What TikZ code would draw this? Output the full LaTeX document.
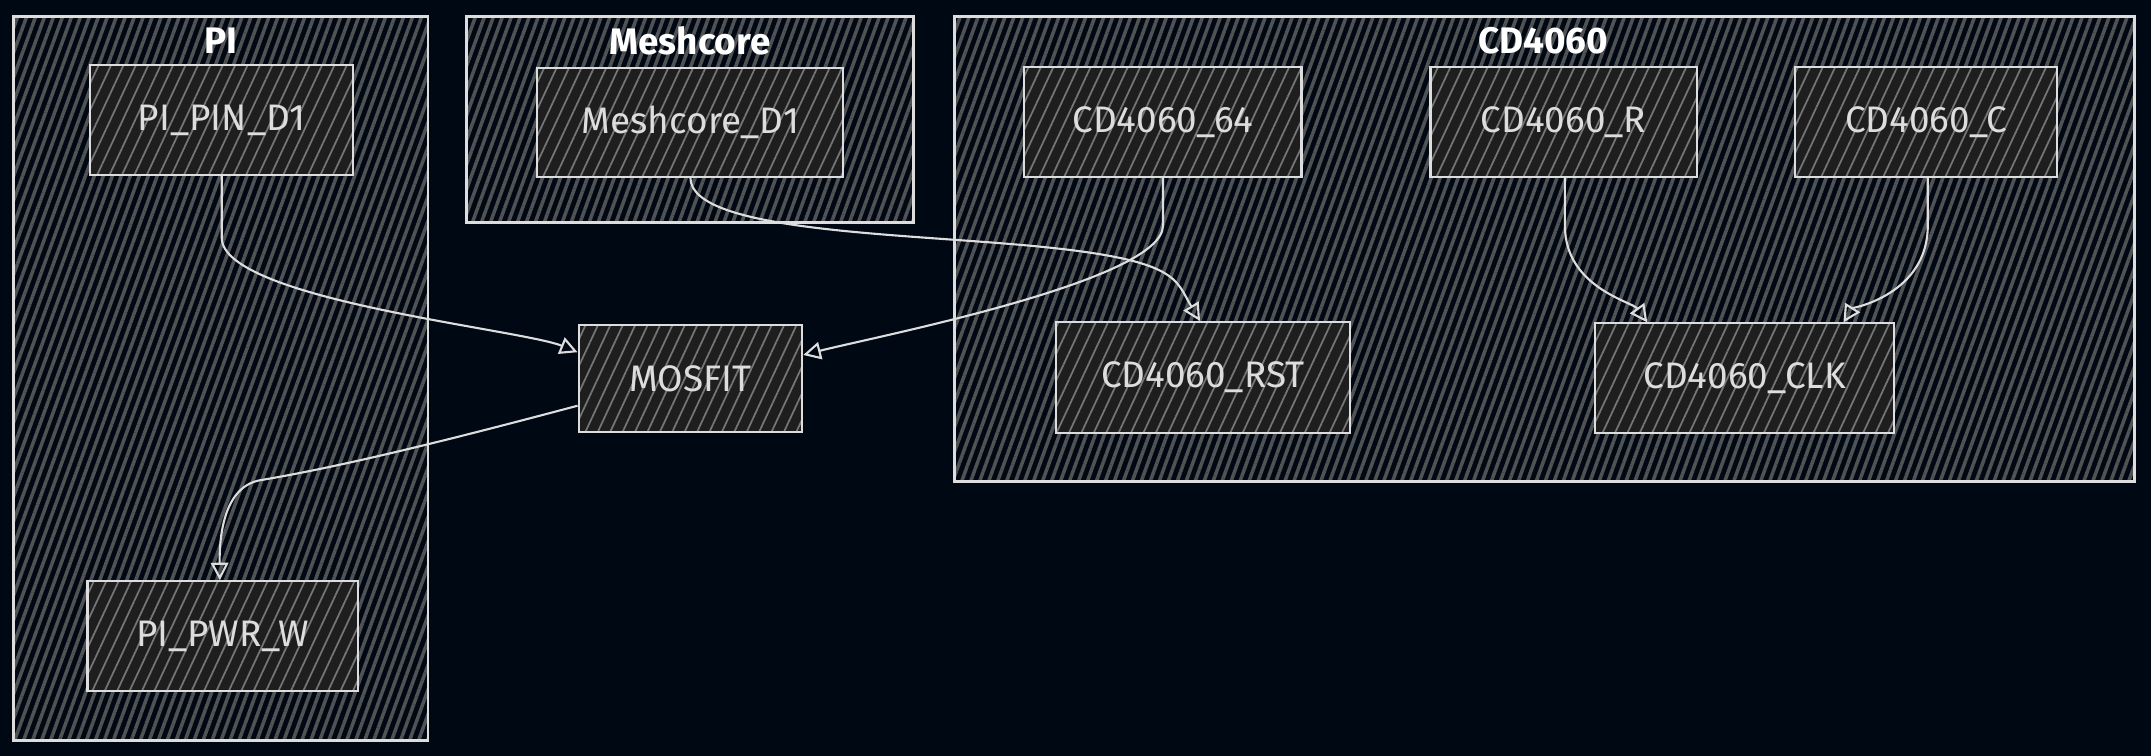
\documentclass[tikz,border=0pt]{standalone}
\usepackage{fontspec}
\setmainfont{Fira Sans}
\usetikzlibrary{positioning, arrows.meta, calc, patterns.meta}
\definecolor{bgnavy}{HTML}{000814}
\definecolor{boxfill}{HTML}{1E1E1E}
\definecolor{hatch}{HTML}{505254}
\definecolor{ink}{HTML}{DDDDDD}
\begin{document}
\begin{tikzpicture}[x=0.01372cm, y=-0.01372cm,
		group/.style={draw=ink, thick, preaction={fill=bgnavy},
			pattern={Lines[angle=70, distance=2.4pt, line width=1pt]}, pattern color=hatch},
		box/.style={draw=ink, semithick, preaction={fill=boxfill},
			pattern={Lines[angle=65, distance=3.2pt, line width=0.5pt]}, pattern color=hatch!80,
			text=ink, font=\fontsize{10.5}{12}\selectfont, anchor=north west, inner sep=0pt},
		title/.style={text=white, font=\fontsize{10.5}{12}\selectfont\fontseries{sb}\selectfont},
		link/.style={draw=ink, semithick, -{Triangle[open, length=5pt, width=5pt]}}]

		\fill[bgnavy] (0,0) rectangle (1568,551);

		% groups
		\draw[group] (10,12) rectangle (312,540);
		\draw[group] (340,12) rectangle (666,162);
		\draw[group] (696,12) rectangle (1556,351);
		\node[title] (t-pi) at (161,30) {PI};
		\node[title] (t-mesh) at (503,30) {Meshcore};
		\node[title] (t-cd) at (1125,30) {CD4060};

		% boxes
		\node[box, minimum width=192*0.01372cm, minimum height=80*0.01372cm] (pin) at (65,47) {PI\_PIN\_D1};
		\node[box, minimum width=223*0.01372cm, minimum height=79*0.01372cm] (mesh) at (391,49) {Meshcore\_D1};
		\node[box, minimum width=202*0.01372cm, minimum height=80*0.01372cm] (c64) at (746,48) {CD4060\_64};
		\node[box, minimum width=194*0.01372cm, minimum height=80*0.01372cm] (cr) at (1042,48) {CD4060\_R};
		\node[box, minimum width=191*0.01372cm, minimum height=80*0.01372cm] (cc) at (1308,48) {CD4060\_C};
		\node[box, minimum width=163*0.01372cm, minimum height=78*0.01372cm] (mos) at (421,236) {MOSFIT};
		\node[box, minimum width=214*0.01372cm, minimum height=81*0.01372cm] (rst) at (769,234) {CD4060\_RST};
		\node[box, minimum width=218*0.01372cm, minimum height=80*0.01372cm] (clk) at (1162,235) {CD4060\_CLK};
		\node[box, minimum width=197*0.01372cm, minimum height=80*0.01372cm] (pwr) at (63,423) {PI\_PWR\_W};

		% links
		\draw[link] (pin.south) -- ++(0,45) .. controls +(0,45) and (380,240) .. ($(mos.west)+(0,-19)$);
		\draw[link] (mesh.south) .. controls +(0,40) and (660,170) .. (760,180)
			.. controls (860,190) and ($(rst.north)+(-20,-30)$) .. ($(rst.north)+(-2,0)$);
		\draw[link] (c64.south) -- ++(0,35) .. controls +(0,40) and (640,245) .. ($(mos.east)+(0,-17)$);
		\draw[link] ($(mos.west)+(0,20)$) .. controls (330,320) and (250,340) .. (190,350)
			.. controls (160,355) and (160,400) .. ($(pwr.north)+(-2,0)$);
		\draw[link] ($(cr.south)+(1,0)$) -- ++(0,35) .. controls +(0,45) and (1190,220) .. ($(clk.north)+(-71,0)$);
		\draw[link] ($(cc.south)+(1,0)$) -- ++(0,35) .. controls +(0,50) and (1350,225) .. ($(clk.north)+(72,0)$);
\end{tikzpicture}
\end{document}
